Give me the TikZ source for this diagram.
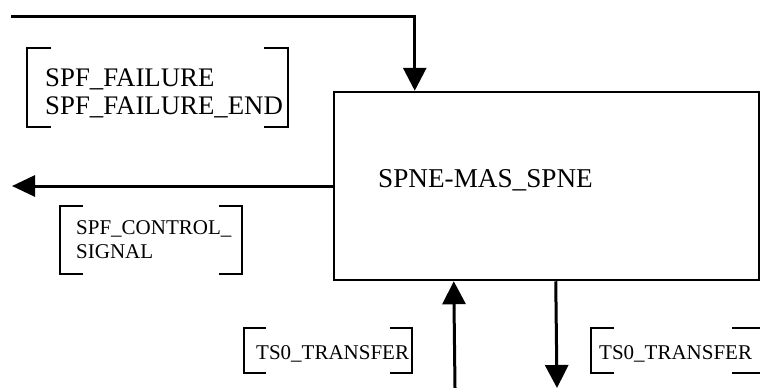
\documentclass[tikz,border=0pt]{standalone}
\usepackage{fontspec}
\setmainfont{Liberation Serif}
\usetikzlibrary{arrows.meta,calc}
\begin{document}
\begin{tikzpicture}[x=1pt,y=-1pt,
  arr/.style={line width=3pt,-{Triangle[length=23pt,width=23pt]}},
  brk/.style={line width=2pt},
  bigtext/.style={inner sep=0pt,anchor=base west,font=\fontsize{26.8}{28}\selectfont},
  smalltext/.style={inner sep=0pt,anchor=base west,font=\fontsize{21}{24}\selectfont}]
\path[use as bounding box] (0,0) rectangle (760,388);
\clip (0,0) rectangle (760,388);
% main block
\node[draw,line width=2.5pt,minimum width=425pt,minimum height=188pt,inner sep=0pt] (box) at (546.5,186) {};
\node[bigtext,font=\fontsize{27.2}{28}\selectfont] (boxlabel) at (378,187) {SPNE-MAS\_SPNE};
% connectors
\coordinate (topstart) at (11,16);
\coordinate (leftend) at (12,186);
\coordinate (upstart) at (455,388);
\coordinate (downend) at (557,388);
\draw[arr] (topstart) -| ($(box.north west)+(82,0)$);
\draw[arr,-{Triangle[length=23pt,width=21pt]}] (box.west) -- (leftend);
\draw[arr] (upstart) -- ($(box.south west)+(121,0)$);
\draw[arr] ($(box.south west)+(223,0)$) -- (downend);
% SPF_FAILURE label
\draw[brk] (51,48) -| (27,127) -- (51,127);
\draw[brk] (264,48) -| (288,127) -- (264,127);
\node[bigtext] (f1) at (45,86) {SPF\_FAILURE};
\node[bigtext] (f2) at (45,114) {SPF\_FAILURE\_END};
% SPF_CONTROL_SIGNAL label
\draw[brk] (83,206) -| (60,274) -- (83,274);
\draw[brk] (219,206) -| (242,274) -- (219,274);
\node[smalltext] (c1) at (76,234) {SPF\_CONTROL\_};
\node[smalltext] (c2) at (76,258) {SIGNAL};
% TS0_TRANSFER labels
\draw[brk] (266,328) -| (244,373) -- (266,373);
\draw[brk] (390,328) -| (412,373) -- (390,373);
\node[smalltext] (t1) at (256,359) {TS0\_TRANSFER};
\draw[brk] (614,328) -| (591,373) -- (614,373);
\draw[brk] (732,328) -| (763,373) -- (732,373);
\node[smalltext] (t2) at (599,359) {TS0\_TRANSFER};
\end{tikzpicture}
\end{document}
